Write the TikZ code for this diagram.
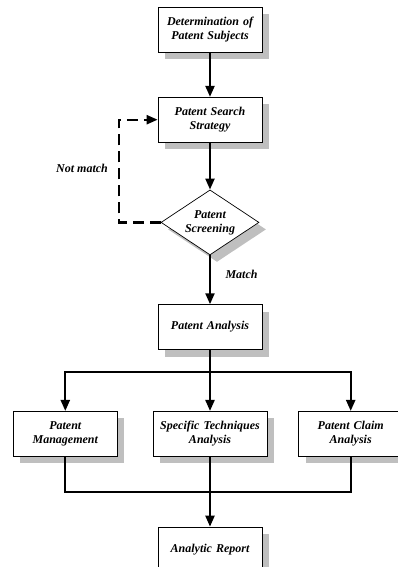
\documentclass[tikz,border=0pt]{standalone}
\usepackage{fontspec}
\setmainfont{Liberation Serif}
\usepackage{tikz}
\usetikzlibrary{positioning,arrows.meta,shapes.geometric,shadows}

\begin{document}
\begin{tikzpicture}[
    x=1pt, y=-1pt,
    shadowStyle/.style={
        drop shadow={shadow xshift=7pt, shadow yshift=-7pt, fill=black!25, opacity=1}
    },
    boxStyle/.style={
        rectangle, draw=black, fill=white, line width=0.7pt, shadowStyle,
        font=\fontsize{12}{14}\selectfont\bfseries\itshape,
        minimum width=104pt, minimum height=45pt, text width=100pt, align=center, inner sep=2pt
    },
    decisionStyle/.style={
        diamond, draw=black, fill=white, line width=0.7pt, shadowStyle,
        font=\fontsize{12}{14}\selectfont\bfseries\itshape,
        minimum width=98pt, minimum height=65pt, aspect=1.5, inner sep=0pt, align=center
    },
    labelStyle/.style={font=\fontsize{12}{14}\selectfont\bfseries\itshape},
    arrowStyle/.style={-{Triangle[length=11pt,width=9pt]}, line width=2.2pt, draw=black},
    lineStyle/.style={line width=2.2pt, draw=black},
    dashStyle/.style={-{Triangle[length=11pt,width=9pt]}, line width=2.2pt, draw=black,
        dash pattern=on 11pt off 6pt}
]
    \useasboundingbox (0,0) rectangle (397,567);

    % Main column
    \node[boxStyle] (subjects) at (210,30) {Determination of\\Patent Subjects};
    \node[boxStyle, below=44pt of subjects] (search) {Patent Search\\Strategy};
    \node[decisionStyle, below=47pt of search] (screen) {Patent\\Screening};
    \node[boxStyle, below=49pt of screen] (analysis) {Patent Analysis};

    % Lower row
    \node[boxStyle, below=61pt of analysis, minimum width=112pt, text width=110pt] (specific) {Specific Techniques\\Analysis};
    \node[boxStyle, left=35pt of specific] (management) {Patent\\Management};
    \node[boxStyle, right=31pt of specific] (claim) {Patent Claim\\Analysis};
    \node[boxStyle, below=70pt of specific] (report) {Analytic Report};

    % Labels
    \node[labelStyle] (notmatch) at (82,168) {Not match};
    \node[labelStyle, right=12pt of screen.south, yshift=-19pt] (match) {Match};

    % Arrows
    \draw[arrowStyle] (subjects) -- (search);
    \draw[arrowStyle] (search) -- (screen);
    \draw[arrowStyle] (screen) -- (analysis);
    \draw[dashStyle] (screen.west) -- ++(-42pt,0) |- (search.west);

    \coordinate[below=22pt of analysis.south] (branch);
    \draw[arrowStyle] (analysis.south) -- (branch) -| (management.north);
    \draw[arrowStyle] (branch) -| (claim.north);
    \draw[arrowStyle] (branch) -- (specific.north);

    \coordinate[below=35pt of specific.south] (merge);
    \draw[lineStyle] (management.south) |- (merge) -| (claim.south);
    \draw[arrowStyle] (specific.south) -- (report.north);
\end{tikzpicture}
\end{document}
